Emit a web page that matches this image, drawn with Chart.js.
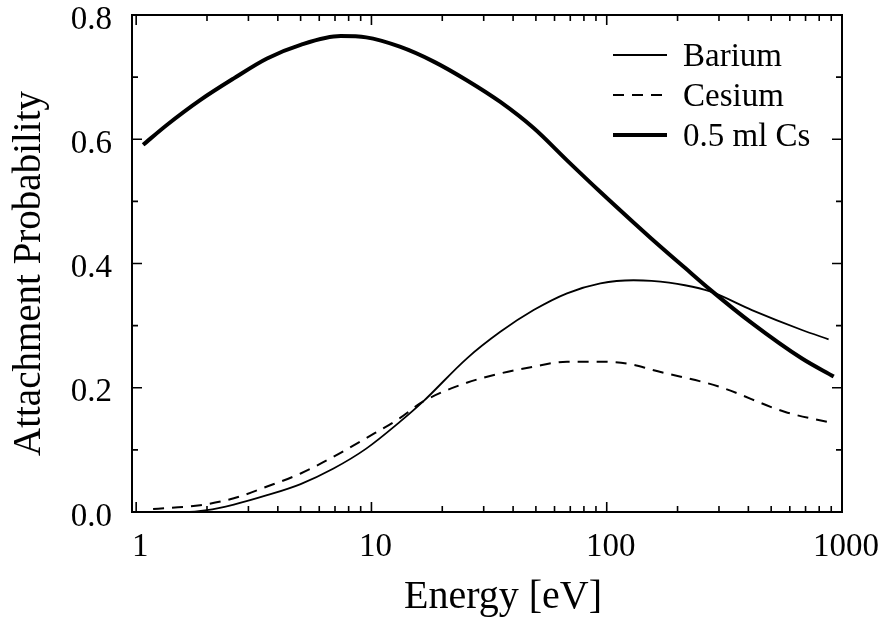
<!DOCTYPE html>
<html>
<head>
<meta charset="utf-8">
<script src="https://cdn.jsdelivr.net/npm/chart.js@4.4.1/dist/chart.umd.min.js"></script>
<style>
  html, body { margin: 0; padding: 0; background: #fff; }
  canvas { display: block; }
</style>
</head>
<body>
<canvas id="chart" width="883" height="628"></canvas>
<script>
// values (energy in eV, attachment probability)
const bariumE = [1.0, 1.6, 2.0, 2.6, 3.6, 5.0, 6.9, 9.5, 13.2, 16.6, 25.4, 35.3, 48.9, 67.8, 94, 130, 155, 215, 275, 414, 676, 877]
const bariumP = [0.0, 0.0, 0.003, 0.012, 0.027, 0.045, 0.070, 0.102, 0.145, 0.178, 0.247, 0.290, 0.325, 0.352, 0.368, 0.373, 0.372, 0.365, 0.355, 0.325, 0.293, 0.278]

const cesiumE = [1.18, 1.87, 2.6, 3.6, 5.0, 6.9, 9.5, 13.2, 16.6, 25.4, 35.3, 48.9, 67.8, 94, 130, 155, 299, 574, 892]
const cesiumP = [0.005, 0.011, 0.022, 0.041, 0.062, 0.089, 0.119, 0.151, 0.178, 0.208, 0.223, 0.234, 0.242, 0.242, 0.237, 0.229, 0.202, 0.161, 0.144]

const csLayerE = [1.07, 1.35, 1.87, 2.6, 3.6, 5.0, 7.4, 9.5, 13.2, 18.4, 25.4, 35.3, 48.9, 67.8, 94, 130, 155, 215, 275, 414, 676, 922]
const csLayerP = [0.591, 0.623, 0.663, 0.698, 0.730, 0.752, 0.766, 0.764, 0.749, 0.725, 0.695, 0.660, 0.618, 0.566, 0.515, 0.466, 0.440, 0.393, 0.358, 0.304, 0.247, 0.218]

const xTickValues = [1, 10, 100, 1000]
const yTickValues = [0, 0.2, 0.4, 0.6, 0.8]
const seriesLabels = ['Barium', 'Cesium', '0.5 ml Cs']
const xTitle = 'Energy [eV]'
const yTitle = 'Attachment Probability'

const SERIF = "'Liberation Serif', 'Times New Roman', serif"

function pts(xs, ys) {
  return xs.map((x, i) => ({ x: x, y: ys[i] }))
}

// frame, inward tick marks on all four sides, axis titles and the legend
const framePlugin = {
  id: 'frame',
  afterDatasetsDraw(chart) {
    const ctx = chart.ctx
    const a = chart.chartArea
    const xs = chart.scales.x
    const ys = chart.scales.y
    ctx.save()
    ctx.strokeStyle = '#000'
    ctx.lineWidth = 2
    ctx.setLineDash([])
    ctx.strokeRect(a.left, a.top, a.right - a.left, a.bottom - a.top)

    ctx.lineWidth = 1.6
    ctx.beginPath()
    for (let d = 1; d <= 100; d *= 10) {
      for (let m = 1; m <= 10; m++) {
        const v = d * m
        if (v < xs.min || v > xs.max) continue
        const px = xs.getPixelForValue(v)
        const len = m === 1 || m === 10 ? 10 : 6
        ctx.moveTo(px, a.bottom)
        ctx.lineTo(px, a.bottom - len)
        ctx.moveTo(px, a.top)
        ctx.lineTo(px, a.top + len)
      }
    }
    for (let i = 0; i <= 8; i++) {
      const py = ys.getPixelForValue(i / 10)
      const len = i % 2 === 0 ? 10 : 6
      ctx.moveTo(a.left, py)
      ctx.lineTo(a.left + len, py)
      ctx.moveTo(a.right, py)
      ctx.lineTo(a.right - len, py)
    }
    ctx.stroke()

    // axis titles (the scan has them a little off-centre)
    ctx.fillStyle = '#000'
    ctx.textAlign = 'center'
    ctx.textBaseline = 'middle'
    ctx.font = '40px ' + SERIF
    ctx.fillText(xTitle, (a.left + a.right) / 2 + 16, 597)
    ctx.save()
    ctx.translate(30, (a.top + a.bottom) / 2 + 10)
    ctx.rotate(-Math.PI / 2)
    ctx.font = '39px ' + SERIF
    ctx.fillText(yTitle, 0, 0)
    ctx.restore()

    // legend
    const lx0 = 613, lx1 = 667, tx = 683
    const rows = [55, 95, 135]
    ctx.font = '33px ' + SERIF
    ctx.textAlign = 'left'
    chart.data.datasets.forEach((ds, i) => {
      ctx.beginPath()
      ctx.lineWidth = ds.borderWidth
      ctx.setLineDash(ds.borderDash || [])
      ctx.moveTo(lx0, rows[i])
      ctx.lineTo(lx1, rows[i])
      ctx.stroke()
      ctx.setLineDash([])
      ctx.fillText(ds.label, tx, rows[i] + 2)
    })
    ctx.restore()
  }
}

const ctx = document.getElementById('chart').getContext('2d')
const chart = new Chart(ctx, {
  type: 'line',
  data: {
    datasets: [
      {
        label: seriesLabels[0],
        data: pts(bariumE, bariumP),
        borderColor: '#000',
        borderWidth: 1.8,
        pointRadius: 0,
        cubicInterpolationMode: 'monotone'
      },
      {
        label: seriesLabels[1],
        data: pts(cesiumE, cesiumP),
        borderColor: '#000',
        borderWidth: 2,
        borderDash: [11, 8],
        pointRadius: 0,
        cubicInterpolationMode: 'monotone'
      },
      {
        label: seriesLabels[2],
        data: pts(csLayerE, csLayerP),
        borderColor: '#000',
        borderWidth: 4,
        pointRadius: 0,
        cubicInterpolationMode: 'monotone'
      }
    ]
  },
  options: {
    responsive: false,
    animation: false,
    layout: { padding: { top: 15, right: 41, left: 0, bottom: 0 } },
    plugins: {
      legend: { display: false },
      tooltip: { enabled: false }
    },
    scales: {
      x: {
        type: 'logarithmic',
        min: 0.96,
        max: 1000,
        grid: { display: false, drawTicks: false },
        border: { display: false },
        afterBuildTicks: (s) => { s.ticks = xTickValues.map(v => ({ value: v })) },
        afterFit: (s) => {
          s.height = 116
          s.paddingLeft = 0
          s.paddingRight = 0
        },
        ticks: {
          color: '#000',
          padding: 16,
          labelOffset: 4,
          maxRotation: 0,
          autoSkip: false,
          font: { family: SERIF, size: 33 },
          callback: (v) => String(v)
        },
        title: { display: false }
      },
      y: {
        min: 0,
        max: 0.8,
        grid: { display: false, drawTicks: false },
        border: { display: false },
        afterBuildTicks: (s) => { s.ticks = yTickValues.map(v => ({ value: v })) },
        afterFit: (s) => {
          s.width = 132
          s.paddingTop = 0
          s.paddingBottom = 0
        },
        ticks: {
          color: '#000',
          padding: 20,
          labelOffset: 5,
          font: { family: SERIF, size: 33 },
          callback: (v) => Number(v).toFixed(1)
        },
        title: { display: false }
      }
    }
  },
  plugins: [framePlugin]
})
</script>
</body>
</html>
